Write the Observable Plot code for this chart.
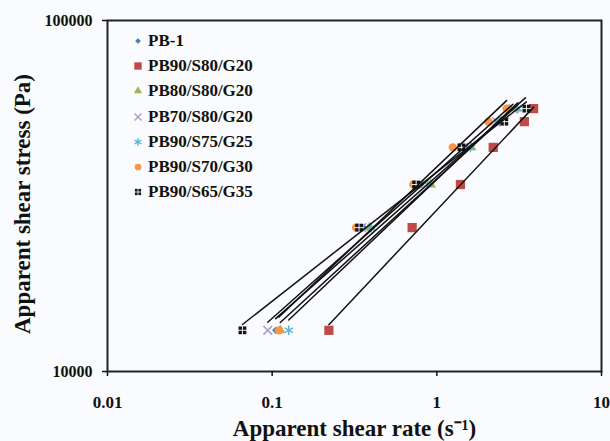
<!DOCTYPE html>
<html>
<head>
<meta charset="utf-8">
<script src="https://cdn.jsdelivr.net/npm/d3@7"></script>
<script src="https://cdn.jsdelivr.net/npm/@observablehq/plot@0.6"></script>
<style>
  html, body { margin: 0; padding: 0; background: #fafbfe; }
  #wrap { position: relative; width: 610px; height: 441px; }
  svg { font-family: "Liberation Serif", "Times New Roman", serif; font-weight: bold; }
  svg [aria-label="x-axis tick label"] { font-size: 17px; }
  svg [aria-label="y-axis tick label"] { font-size: 16px; }
  #legend { position: absolute; left: 130px; top: 28px; font-family: "Liberation Serif", "Times New Roman", serif; font-weight: bold; font-size: 17px; color: #111; }
  #legend .row { height: 25.3px; display: flex; align-items: center; }
  #legend svg { width: 16px; height: 16px; margin-right: 2px; }
</style>
</head>
<body>
<div id="wrap"></div>
<script>
// ---- data ----
const seriesNames = ["PB-1", "PB90/S80/G20", "PB80/S80/G20", "PB70/S80/G20", "PB90/S75/G25", "PB90/S70/G30", "PB90/S65/G35"];
const stressLevels = [13100, 25700, 34100, 43500, 51500, 56100]; // Pa
const ratePB1      = [0.105, 0.36, 0.80, 1.50, 2.35, 3.45];
const ratePB90S80  = [0.221, 0.708, 1.39, 2.20, 3.40, 3.87];
const ratePB80S80  = [0.112, 0.39, 0.92, 1.62, 2.47, 3.04];
const ratePB70S80  = [0.094, 0.35, 0.78, 1.45, 2.30, 2.90];
const ratePB90S75  = [0.126, 0.40, 0.88, 1.60, 2.40, 3.10];
const ratePB90S70  = [0.110, 0.323, 0.72, 1.25, 2.06, 2.65];
const ratePB90S65  = [0.066, 0.337, 0.749, 1.41, 2.57, 3.50];
const xTicks = [0.01, 0.1, 1, 10];
const yTicks = [10000, 100000];
const xTitle = "Apparent shear rate (s\u207B\u00B9)";
const yTitle = "Apparent shear stress (Pa)";

// ---- styling per series ----
const rates = [ratePB1, ratePB90S80, ratePB80S80, ratePB70S80, ratePB90S75, ratePB90S70, ratePB90S65];
const styles = [
  {symbol: "diamond2", color: "#4a7ebb", r: 3.2, filled: true},
  {symbol: "square", color: "#be4b48", r: 5.2, filled: true},
  {symbol: "triangle", color: "#98b954", r: 3.8, filled: true},
  {symbol: "times", color: "#a99bd0", r: 4, filled: false},
  {symbol: "asterisk", color: "#5ab8d6", r: 4.5, filled: false},
  {symbol: "circle", color: "#f79646", r: 4.2, filled: true},
  {symbol: "square", color: "#151515", r: 4.4, filled: true}
];

const points = seriesNames.map((s, i) => rates[i].map((r, j) => ({series: s, rate: r, stress: stressLevels[j]})));

// power-law trendline (least squares in log-log space), spanning the data's x range
function trend(pts) {
  const lx = pts.map(d => Math.log10(d.rate)), ly = pts.map(d => Math.log10(d.stress));
  const mx = d3.mean(lx), my = d3.mean(ly);
  const b = d3.sum(lx, (v, k) => (v - mx) * (ly[k] - my)) / d3.sum(lx, v => (v - mx) ** 2);
  const a = my - b * mx;
  const [x0, x1] = d3.extent(pts, d => d.rate);
  return [x0, x1].map(x => ({rate: x, stress: Math.pow(10, a + b * Math.log10(x))}));
}

const marks = [];
points.forEach((pts, i) => {
  const st = styles[i];
  marks.push(Plot.dot(pts, st.filled
    ? {x: "rate", y: "stress", symbol: () => st.symbol, r: st.r, fill: st.color, stroke: "none"}
    : {x: "rate", y: "stress", symbol: () => st.symbol, r: st.r, stroke: st.color, fill: "none", strokeWidth: 1.5}));
  if (i === 6) marks.push(Plot.dot(pts, {x: "rate", y: "stress", symbol: () => "plus", r: 3.2, stroke: "#fff", strokeWidth: 0.9}));
});
points.forEach(pts => marks.push(Plot.line(trend(pts), {x: "rate", y: "stress", stroke: "#111", strokeWidth: 1.5})));

const chart = Plot.plot({
  width: 610, height: 441,
  marginLeft: 107, marginRight: 9, marginTop: 20, marginBottom: 70,
  style: {background: "transparent", color: "#111"},
  x: {type: "log", domain: [0.01, 10]},
  y: {type: "log", domain: [10000, 100000]},
  marks: [
    ...marks,
    Plot.frame({stroke: "#222", strokeWidth: 2}),
    Plot.axisX({ticks: xTicks, tickFormat: d => String(d), tickSize: 5, tickPadding: 19, label: null, strokeWidth: 1.5}),
    Plot.axisY({ticks: yTicks, tickFormat: d => String(d), tickSize: 5, tickPadding: 10, label: null, strokeWidth: 1.5}),
    Plot.text([xTitle], {frameAnchor: "bottom", textAnchor: "middle", lineAnchor: "middle", dy: 57, text: d => d, fontSize: 23, fontWeight: "bold"}),
    Plot.text([yTitle], {frameAnchor: "left", textAnchor: "middle", lineAnchor: "middle", dx: -85, dy: 8, rotate: -90, text: d => d, fontSize: 23, fontWeight: "bold"})
  ]
});
const wrap = document.getElementById("wrap");
wrap.appendChild(chart);

// legend (inside the plot area, top-left)
const symMap = {diamond2: d3.symbolDiamond2, square: d3.symbolSquare, triangle: d3.symbolTriangle, times: d3.symbolTimes, asterisk: d3.symbolAsterisk, circle: d3.symbolCircle};
const legend = d3.select(wrap).append("div").attr("id", "legend");
seriesNames.forEach((name, i) => {
  const st = styles[i];
  const row = legend.append("div").attr("class", "row");
  const svg = row.append("svg").attr("viewBox", "-8 -8 16 16");
  const size = Math.PI * (st.r * 0.8) ** 2;
  const p = svg.append("path").attr("d", d3.symbol(symMap[st.symbol], size)());
  if (st.filled) p.attr("fill", st.color); else p.attr("fill", "none").attr("stroke", st.color).attr("stroke-width", 1.4);
  if (i === 6) svg.append("path").attr("d", d3.symbol(d3.symbolPlus, size * 0.5)()).attr("fill", "none").attr("stroke", "#fff").attr("stroke-width", 0.8);
  row.append("span").text(name);
});
</script>
</body>
</html>
